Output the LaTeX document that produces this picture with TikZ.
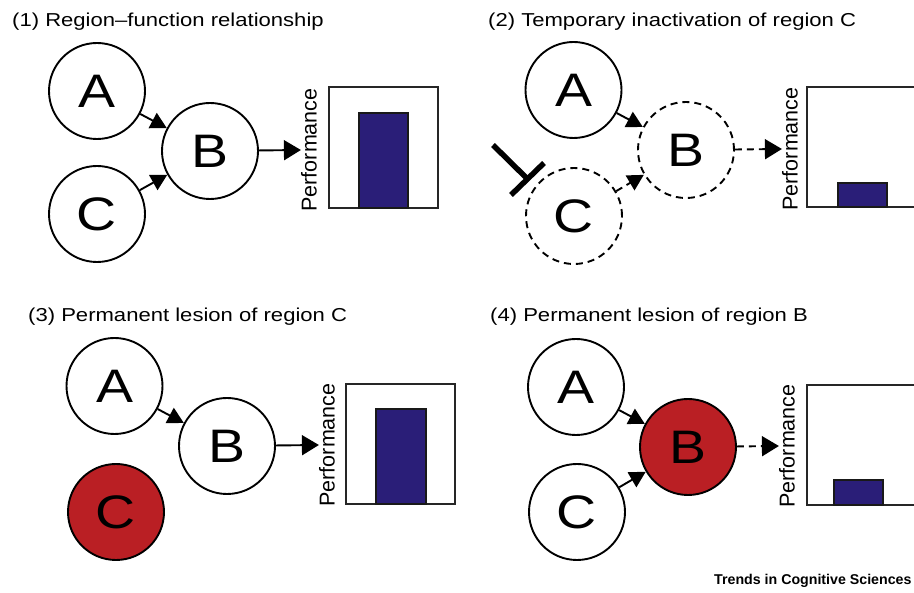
\documentclass[tikz,border=0pt]{standalone}
\usepackage{fontspec}
\usepackage{graphicx}
\setmainfont{Liberation Sans}
\usetikzlibrary{arrows.meta}
\definecolor{lesion}{RGB}{186,31,36}
\definecolor{barblue}{RGB}{42,30,120}
\newcommand{\wtxt}[1]{\scalebox{1.18}[1]{#1}}
\tikzset{
  region/.style={circle, draw=black, line width=1.9pt, minimum size=96pt, inner sep=0pt,
    fill=white, font=\fontsize{47}{52}\selectfont},
  inactive/.style={region, dash pattern=on 7pt off 5pt},
  lesioned/.style={region, fill=lesion},
  arr/.style={line width=1.9pt, -{Triangle[length=16pt,width=17pt]}},
  outarr/.style={line width=1.9pt, -{Triangle[length=17pt,width=20pt]}},
  dasharr/.style={arr, dash pattern=on 7pt off 5pt},
  dashout/.style={outarr, dash pattern=on 7pt off 5pt},
  title/.style={anchor=base west, inner sep=0pt, font=\fontsize{18.7}{22}\selectfont},
  perf/.style={rotate=90, inner sep=0pt, font=\fontsize{21.5}{24}\selectfont},
  chartbox/.style={draw=black!85, line width=2pt, fill=white},
  bar/.style={draw=black!90, line width=1.5pt, fill=barblue},
  block/.style={line width=5.5pt},
}
\begin{document}
\begin{tikzpicture}[x=1pt, y=-1pt]
\useasboundingbox (0,0) rectangle (914,593);

% ---------- Panel 1 ----------
\node[title] (t1) at (12,27) {\wtxt{(1) Region–function relationship}};
\node[region] (A1) at (97,91) {\wtxt{A}};
\node[region] (B1) at (210,151) {\wtxt{B}};
\node[region] (C1) at (97,214) {\wtxt{C}};
\draw[chartbox] (329,87) rectangle (438,208);
\draw[bar] (359,113) rectangle (408,208);
\node[perf] (P1) at (309,150) {Performance};
\draw[arr] (A1) -- (B1);
\draw[arr] (C1) -- (B1);
\draw[outarr] (B1) -- (P1.north);

% ---------- Panel 2 ----------
\node[title] (t2) at (488,27) {\wtxt{(2) Temporary inactivation of region C}};
\node[region] (A2) at (573.5,90) {\wtxt{A}};
\node[inactive] (B2) at (686,150) {\wtxt{B}};
\node[inactive] (C2) at (574,216) {\wtxt{C}};
\draw[chartbox] (807,87) rectangle (916,207);
\draw[bar] (838,183) rectangle (887,207);
\node[perf] (P2) at (790,149) {Performance};
\draw[arr] (A2) -- (B2);
\draw[dasharr] (C2) -- (B2);
\draw[dashout] (B2) -- (P2.north);
\coordinate (blkS) at (493,145);
\coordinate (blkE) at (527.5,179);
\coordinate (barL) at (511,195);
\coordinate (barR) at (544,163);
\draw[block] (blkS) -- (blkE);
\draw[block] (barL) -- (barR);

% ---------- Panel 3 ----------
\node[title] (t3) at (28,322) {\wtxt{(3) Permanent lesion of region C}};
\node[region] (A3) at (114.5,386) {\wtxt{A}};
\node[region] (B3) at (227,446) {\wtxt{B}};
\node[lesioned] (C3) at (116,512) {\wtxt{C}};
\draw[chartbox] (346,384) rectangle (455,504);
\draw[bar] (376,409) rectangle (426,504);
\node[perf] (P3) at (327,445) {Performance};
\draw[arr] (A3) -- (B3);
\draw[outarr] (B3) -- (P3.north);

% ---------- Panel 4 ----------
\node[title] (t4) at (490,322) {\wtxt{(4) Permanent lesion of region B}};
\node[region] (A4) at (576,387) {\wtxt{A}};
\node[lesioned] (B4) at (688,447) {\wtxt{B}};
\node[region] (C4) at (577,512) {\wtxt{C}};
\draw[chartbox] (807,385) rectangle (916,505);
\draw[bar] (834,480) rectangle (883,505);
\node[perf] (P4) at (787,446) {Performance};
\draw[arr] (A4) -- (B4);
\draw[arr] (C4) -- (B4);
\draw[dashout] (B4) -- (P4.north);

% ---------- Footer ----------
\node[anchor=base west, inner sep=0pt, font=\fontsize{14.2}{16}\selectfont\bfseries] (src) at (714,585) {Trends in Cognitive Sciences};
\end{tikzpicture}
\end{document}
